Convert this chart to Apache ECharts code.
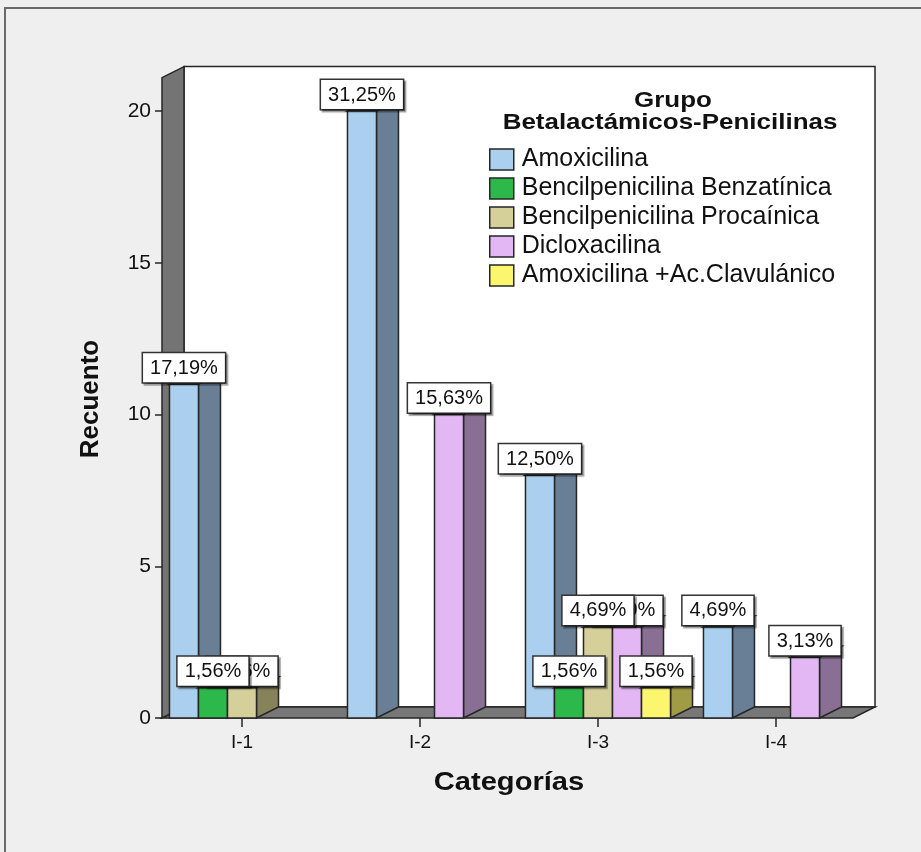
<!DOCTYPE html>
<html>
<head>
<meta charset="utf-8">
<script src="https://cdn.jsdelivr.net/npm/echarts@6/dist/echarts.min.js"></script>
<style>
  html, body { margin: 0; padding: 0; background: #efefef; }
  #chart { width: 921px; height: 852px; }
</style>
</head>
<body>
<div id="chart"></div>
<script>
// Recuento por categoría, grupo Betalactámicos-Penicilinas
const categories = ['I-1', 'I-2', 'I-3', 'I-4'];
const seriesNames = [
  'Amoxicilina',
  'Bencilpenicilina Benzatínica',
  'Bencilpenicilina Procaínica',
  'Dicloxacilina',
  'Amoxicilina +Ac.Clavulánico'
];
const amoxicilina   = [11, 20, 8, 3];
const benzatinica   = [1, 0, 1, 0];
const procainica    = [1, 0, 3, 0];
const dicloxacilina = [0, 10, 3, 2];
const clavulanico   = [0, 0, 1, 0];
const yTicks = [0, 5, 10, 15, 20];

const seriesValues = [amoxicilina, benzatinica, procainica, dicloxacilina, clavulanico];
const total = seriesValues.flat().reduce((a, b) => a + b, 0);

// front / side / top shades for each group
const palette = [
  { front: '#abd0ef', side: '#687f96', top: '#c9e0f5' },
  { front: '#2db84b', side: '#1f7d34', top: '#5fd077' },
  { front: '#d5cf9a', side: '#86825a', top: '#e4dfb8' },
  { front: '#e2b7f3', side: '#8a6f95', top: '#eed3f8' },
  { front: '#fcf56e', side: '#a09b45', top: '#fdf9a8' }
];

const DX = 22;       // depth offset, px to the right
const DY = 11;       // depth offset, px upward
const WALL_TOP = 21.1;
const FONT = "'Liberation Sans', Arial, sans-serif";
const EDGE = '#262626';

function pctText(v) {
  return (v / total * 100).toFixed(2).replace('.', ',') + '%';
}

function renderBar(params, api) {
  const slot = params.seriesIndex;
  const cat = api.value(0);
  const v = api.value(1);
  const base = api.coord([cat, 0]);
  const top = api.coord([cat, v]);
  const band = api.size([1, 0])[0];
  const bw = band * 0.163;
  const x0 = base[0] - 2.5 * bw + slot * bw;
  const x1 = x0 + bw;
  const y0 = base[1];
  const y1 = top[1];
  const c = palette[slot];
  const line = { stroke: EDGE, lineWidth: 1.5 };
  return {
    type: 'group',
    children: [
      {
        type: 'polygon',
        shape: { points: [[x1, y0], [x1, y1], [x1 + DX, y1 - DY], [x1 + DX, y0 - DY]] },
        style: Object.assign({ fill: c.side }, line)
      },
      {
        type: 'polygon',
        shape: { points: [[x0, y1], [x1, y1], [x1 + DX, y1 - DY], [x0 + DX, y1 - DY]] },
        style: Object.assign({ fill: c.top }, line)
      },
      {
        type: 'rect',
        shape: { x: x0, y: y1, width: bw, height: y0 - y1 },
        style: Object.assign({ fill: c.front }, line)
      },
      {
        type: 'text',
        z2: 20 - slot,
        style: {
          text: pctText(v),
          x: x0 + bw / 2,
          y: y1 - 2,
          align: 'center',
          verticalAlign: 'bottom',
          font: '20px ' + FONT,
          fill: '#111',
          backgroundColor: '#ffffff',
          borderColor: '#333',
          borderWidth: 1.5,
          padding: [5, 7, 4, 7],
          shadowColor: 'rgba(0,0,0,0.35)',
          shadowOffsetX: 2,
          shadowOffsetY: 2,
          shadowBlur: 1
        }
      }
    ]
  };
}

function renderFrame(params, api) {
  const cs = params.coordSys;
  const fl = cs.x + 9;
  const fr = cs.x + cs.width - 12;
  const fb = cs.y + cs.height;
  const ft = api.coord([0, WALL_TOP])[1];
  const line = { stroke: EDGE, lineWidth: 1.5 };
  return {
    type: 'group',
    children: [
      {
        type: 'polygon',
        shape: { points: [[fl + DX, ft - DY], [fr + DX, ft - DY], [fr + DX, fb - DY], [fl + DX, fb - DY]] },
        style: Object.assign({ fill: '#ffffff' }, line)
      },
      {
        type: 'polygon',
        shape: { points: [[fl, fb], [fr, fb], [fr + DX, fb - DY], [fl + DX, fb - DY]] },
        style: Object.assign({ fill: '#777777' }, line)
      },
      {
        type: 'polygon',
        shape: { points: [[fl, fb], [fl, ft], [fl + DX, ft - DY], [fl + DX, fb - DY]] },
        style: Object.assign({ fill: '#747474' }, line)
      }
    ]
  };
}

const barSeries = seriesNames.map((name, i) => ({
  name: name,
  type: 'custom',
  z: 2,
  renderItem: renderBar,
  encode: { x: 0, y: 1 },
  itemStyle: { color: palette[i].front },
  data: seriesValues[i]
    .map((v, ci) => (v > 0 ? [ci, v] : null))
    .filter(d => d !== null)
}));

const chart = echarts.init(document.getElementById('chart'), null, { renderer: 'canvas' });

chart.setOption({
  backgroundColor: '#efefef',
  animation: false,
  grid: { left: 153, width: 712, top: 111, bottom: 134 },
  xAxis: {
    type: 'category',
    data: categories,
    axisLine: { show: false },
    axisTick: { show: true, alignWithLabel: true, length: 9, lineStyle: { color: EDGE, width: 1.5 } },
    axisLabel: { margin: 15, fontSize: 19, color: '#111', fontFamily: FONT },
    splitLine: { show: false }
  },
  yAxis: {
    type: 'value',
    min: 0,
    max: 20,
    interval: 5,
    offset: -9,
    axisLine: { show: false },
    axisTick: { show: true, length: 7, lineStyle: { color: EDGE, width: 1.5 } },
    axisLabel: {
      margin: 11,
      fontSize: 21,
      color: '#111',
      fontFamily: FONT,
      formatter: v => (yTicks.indexOf(v) >= 0 ? String(v) : '')
    },
    splitLine: { show: false }
  },
  legend: {
    orient: 'vertical',
    left: 484,
    top: 142,
    itemWidth: 24,
    itemHeight: 21,
    itemGap: 4,
    icon: 'rect',
    itemStyle: { borderColor: EDGE, borderWidth: 1.5 },
    textStyle: { fontSize: 25, lineHeight: 21, color: '#111', fontFamily: FONT, padding: [0, 0, 0, 3] },
    selectedMode: false,
    data: seriesNames
  },
  graphic: [
    {
      type: 'rect',
      z: -10,
      shape: { x: 5, y: 8, width: 940, height: 880 },
      style: { fill: 'none', stroke: '#6a6a6a', lineWidth: 2 }
    },
    {
      type: 'text',
      z: 50,
      x: 673, y: 101,
      scaleX: 1.18,
      style: { text: 'Grupo', align: 'center', verticalAlign: 'middle', font: 'bold 22px ' + FONT, fill: '#111' }
    },
    {
      type: 'text',
      z: 50,
      x: 670, y: 123,
      scaleX: 1.18,
      style: { text: 'Betalactámicos-Penicilinas', align: 'center', verticalAlign: 'middle', font: 'bold 22px ' + FONT, fill: '#111' }
    },
    {
      type: 'text',
      z: 50,
      x: 509, y: 783,
      scaleX: 1.12,
      style: { text: 'Categorías', align: 'center', verticalAlign: 'middle', font: 'bold 26px ' + FONT, fill: '#111' }
    },
    {
      type: 'text',
      z: 50,
      x: 91, y: 399,
      rotation: Math.PI / 2,
      style: { text: 'Recuento', align: 'center', verticalAlign: 'middle', font: 'bold 26px ' + FONT, fill: '#111' }
    }
  ],
  series: barSeries.concat([{
    name: 'marco',
    type: 'custom',
    z: 1,
    silent: true,
    renderItem: renderFrame,
    encode: { x: 0, y: 1 },
    data: [[0, 0]]
  }])
});
</script>
</body>
</html>
